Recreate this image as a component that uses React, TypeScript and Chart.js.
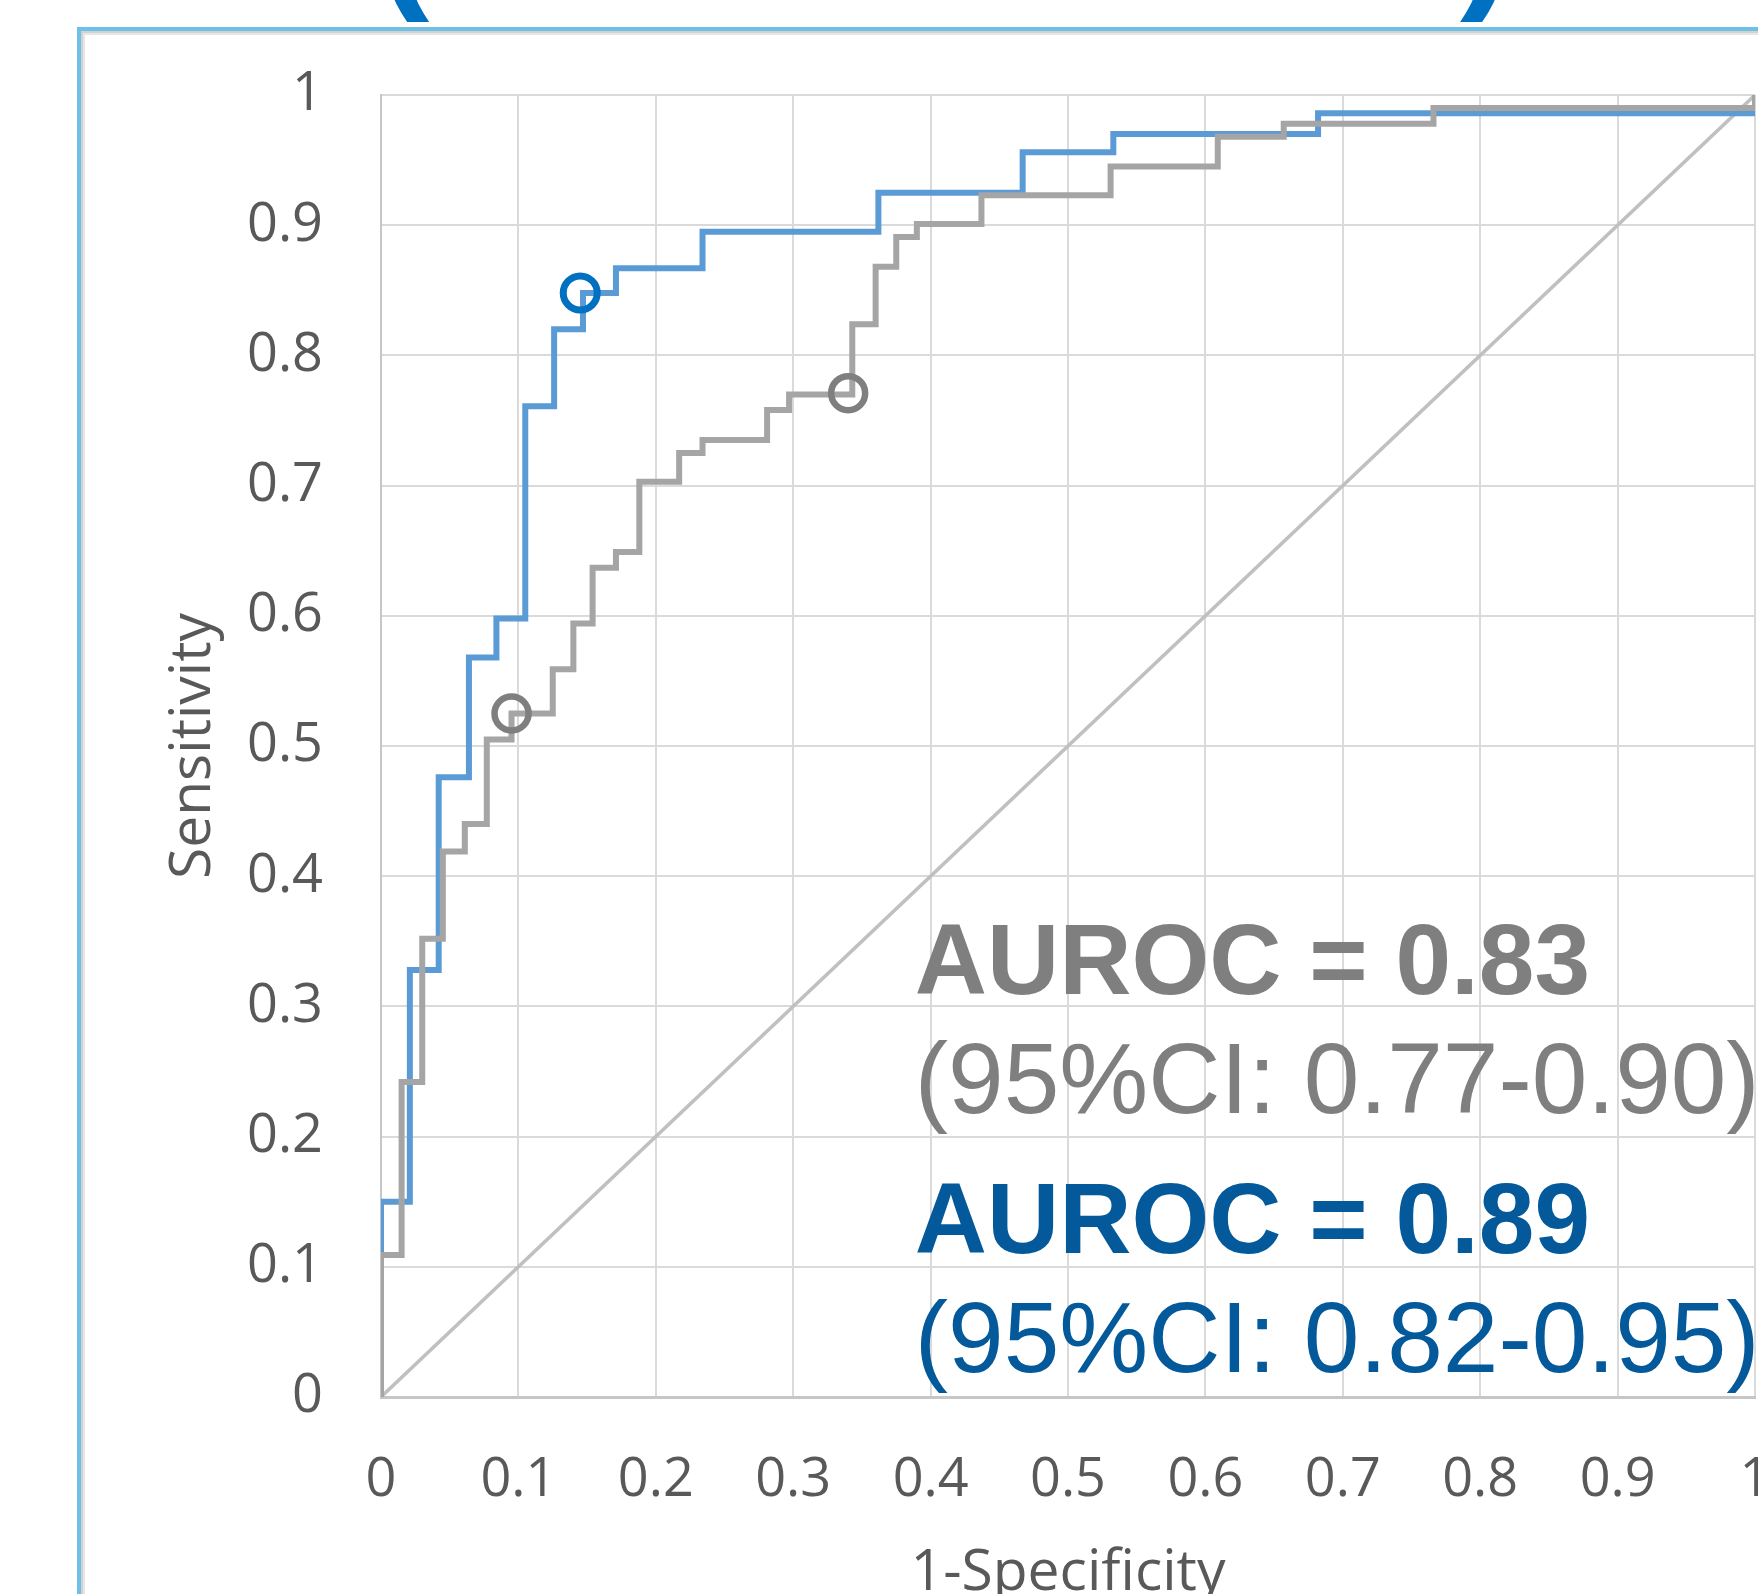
import React, { useEffect, useRef } from 'react';
import { Chart, registerables } from 'chart.js';

Chart.register(...registerables);

// ROC curve vertices (x = 1-Specificity, y = Sensitivity); each point is the top of a vertical rise
const blueFpr = [0, 0, 0.021, 0.042, 0.064, 0.084, 0.105, 0.126, 0.147, 0.171, 0.234, 0.362, 0.467, 0.533, 0.682, 1.0];
const blueTpr = [0, 0.150, 0.328, 0.476, 0.568, 0.598, 0.761, 0.820, 0.848, 0.867, 0.895, 0.925, 0.956, 0.970, 0.986, 1.0];

const grayFpr = [0, 0, 0.015, 0.030, 0.045, 0.061, 0.077, 0.095, 0.125, 0.140, 0.154, 0.171, 0.188, 0.217, 0.234, 0.281, 0.297, 0.343, 0.360, 0.375, 0.390, 0.437, 0.531, 0.609, 0.657, 0.766, 1.0];
const grayTpr = [0, 0.109, 0.242, 0.352, 0.419, 0.440, 0.505, 0.525, 0.559, 0.594, 0.637, 0.649, 0.703, 0.725, 0.735, 0.758, 0.770, 0.824, 0.868, 0.891, 0.901, 0.923, 0.945, 0.968, 0.978, 0.990, 1.0];

// Optimal cut-off markers
const blueCutFpr = [0.145];
const blueCutTpr = [0.848];
const grayCutFpr = [0.095, 0.340];
const grayCutTpr = [0.525, 0.771];

// Reference diagonal
const diagFpr = [0, 1];
const diagTpr = [0, 1];

const xTickLabels = ['0', '0.1', '0.2', '0.3', '0.4', '0.5', '0.6', '0.7', '0.8', '0.9', '1'];
const yTickLabels = ['0', '0.1', '0.2', '0.3', '0.4', '0.5', '0.6', '0.7', '0.8', '0.9', '1'];

const xTitle = '1-Specificity';
const yTitle = 'Sensitivity';

const grayAuroc = 'AUROC = 0.83';
const grayCi = '(95%CI: 0.77-0.90)';
const blueAuroc = 'AUROC = 0.89';
const blueCi = '(95%CI: 0.82-0.95)';

const toPts = (xs: number[], ys: number[]) => xs.map((x, i) => ({ x, y: ys[i] }));

const VIEW_W = 1758;
const VIEW_H = 1594;
const CANVAS_W = 1779;

const framePlugin = {
  id: 'frame',
  beforeDraw(chart: any) {
    const ctx = chart.ctx;
    ctx.save();
    ctx.fillStyle = '#ffffff';
    ctx.fillRect(0, 0, chart.width, chart.height);
    // title parentheses (cut off at top)
    ctx.fillStyle = '#0070C0';
    ctx.font = 'bold 160px "Liberation Sans", Arial, sans-serif';
    ctx.textBaseline = 'alphabetic';
    ctx.textAlign = 'left';
    ctx.fillText('(', 376, -11);
    ctx.fillText(')', 1460, -11);
    // outer frame
    ctx.lineWidth = 2;
    ctx.strokeStyle = '#E6E6E6';
    ctx.beginPath();
    ctx.moveTo(84, chart.height + 10);
    ctx.lineTo(84, 34);
    ctx.lineTo(chart.width + 10, 34);
    ctx.stroke();
    ctx.strokeStyle = '#D2D2D2';
    ctx.beginPath();
    ctx.moveTo(82, chart.height + 10);
    ctx.lineTo(82, 32);
    ctx.lineTo(chart.width + 10, 32);
    ctx.stroke();
    ctx.lineWidth = 4;
    ctx.strokeStyle = '#6EC0E6';
    ctx.beginPath();
    ctx.moveTo(79, chart.height + 10);
    ctx.lineTo(79, 29);
    ctx.lineTo(chart.width + 10, 29);
    ctx.stroke();
    ctx.restore();
  },
};

const textPlugin = {
  id: 'aurocText',
  afterDatasetsDraw(chart: any) {
    const ctx = chart.ctx;
    const xs = chart.scales.x;
    const ys = chart.scales.y;
    const x0 = xs.getPixelForValue(0.3885);
    ctx.save();
    ctx.textAlign = 'left';
    ctx.textBaseline = 'alphabetic';
    ctx.fillStyle = '#7F7F7F';
    ctx.font = 'bold 100px "Liberation Sans", Arial, sans-serif';
    ctx.fillText(grayAuroc, x0, ys.getPixelForValue(0.3095));
    ctx.font = '100px "Liberation Sans", Arial, sans-serif';
    ctx.fillText(grayCi, x0, ys.getPixelForValue(0.2181));
    ctx.fillStyle = '#03599A';
    ctx.font = 'bold 100px "Liberation Sans", Arial, sans-serif';
    ctx.fillText(blueAuroc, x0, ys.getPixelForValue(0.1106));
    ctx.font = '100px "Liberation Sans", Arial, sans-serif';
    ctx.fillText(blueCi, x0, ys.getPixelForValue(0.0192));
    ctx.restore();
  },
};

export default function App() {
  const ref = useRef<HTMLCanvasElement | null>(null);

  useEffect(() => {
    if (!ref.current) return;
    const tickFont = { family: '"Open Sans", "DejaVu Sans", sans-serif', size: 54 };
    const titleFont = { family: '"Open Sans", "DejaVu Sans", sans-serif', size: 57 };
    const chart = new Chart(ref.current, {
      type: 'scatter',
      data: {
        datasets: [
          {
            label: 'blue cut-off',
            data: toPts(blueCutFpr, blueCutTpr),
            showLine: false,
            pointRadius: 17,
            pointBorderWidth: 7,
            pointBorderColor: '#0070C0',
            pointBackgroundColor: 'rgba(0,0,0,0)',
            order: 0,
          },
          {
            label: 'gray cut-off',
            data: toPts(grayCutFpr, grayCutTpr),
            showLine: false,
            pointRadius: 17,
            pointBorderWidth: 6.5,
            pointBorderColor: '#7F7F7F',
            pointBackgroundColor: 'rgba(0,0,0,0)',
            order: 0,
          },
          {
            label: 'gray ROC',
            data: toPts(grayFpr, grayTpr),
            showLine: true,
            stepped: 'before',
            borderColor: '#A5A5A5',
            borderWidth: 6,
            pointRadius: 0,
            fill: false,
            order: 1,
          },
          {
            label: 'blue ROC',
            data: toPts(blueFpr, blueTpr),
            showLine: true,
            stepped: 'before',
            borderColor: '#5B9BD5',
            borderWidth: 6,
            pointRadius: 0,
            fill: false,
            order: 2,
          },
          {
            label: 'reference',
            data: toPts(diagFpr, diagTpr),
            showLine: true,
            borderColor: '#C0C0C0',
            borderWidth: 3.5,
            pointRadius: 0,
            fill: false,
            order: 3,
          },
        ],
      },
      options: {
        responsive: false,
        animation: false,
        layout: { padding: { left: 0, right: 3, top: 95, bottom: 0 } },
        plugins: {
          legend: { display: false },
          tooltip: { enabled: false },
        },
        scales: {
          x: {
            type: 'linear',
            min: 0,
            max: 1,
            afterFit: (s: any) => {
              s.height = 197;
              s.paddingLeft = 0;
              s.paddingRight = 0;
            },
            ticks: {
              stepSize: 0.1,
              autoSkip: false,
              maxRotation: 0,
              padding: 51,
              color: '#595959',
              font: tickFont,
              callback: (_v: any, i: number) => xTickLabels[i],
            },
            grid: { color: '#DADADA', lineWidth: 2, drawTicks: false },
            border: { display: true, color: '#C6C6C6', width: 3 },
            title: {
              display: true,
              text: xTitle,
              color: '#595959',
              font: titleFont,
              padding: { top: 0, bottom: -14 },
            },
          },
          y: {
            type: 'linear',
            min: 0,
            max: 1,
            afterFit: (s: any) => {
              s.width = 381;
              s.paddingTop = 0;
              s.paddingBottom = 0;
            },
            ticks: {
              stepSize: 0.1,
              autoSkip: false,
              padding: 58,
              color: '#595959',
              font: tickFont,
              callback: (_v: any, i: number) => yTickLabels[i],
            },
            grid: { color: '#DADADA', lineWidth: 2, drawTicks: false },
            border: { display: true, color: '#C6C6C6', width: 2 },
            title: {
              display: true,
              text: yTitle,
              color: '#595959',
              font: titleFont,
              padding: { top: 160, bottom: 0 },
            },
          },
        },
      },
      plugins: [framePlugin, textPlugin],
    } as any);
    return () => chart.destroy();
  }, []);

  return (
    <div style={{ position: 'absolute', left: 0, top: 0, width: VIEW_W, height: VIEW_H, overflow: 'hidden', background: '#fff' }}>
      <canvas ref={ref} width={CANVAS_W} height={VIEW_H} style={{ width: CANVAS_W, height: VIEW_H, display: 'block' }} />
    </div>
  );
}
